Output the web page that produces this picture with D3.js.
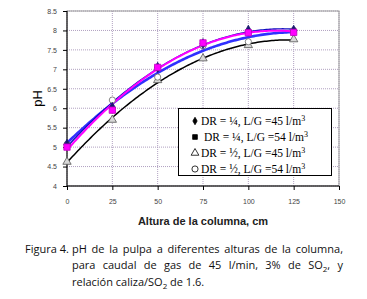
<!DOCTYPE html>
<html>
<head>
<meta charset="utf-8">
<script src="https://d3js.org/d3.v7.min.js"></script>
<style>
  body { margin: 0; background: #fff; }
  svg { display: block; }
</style>
</head>
<body>
<div id="chart"></div>
<script>
// altura de la columna (cm)
const alturas = [0, 25, 50, 75, 100, 125];
// pH por serie
const phDiamante = [5.07, 6.02, 7.05, 7.66, 8.0, 8.0];   // DR = 1/4, L/G = 45
const phCuadrado = [5.0, 5.95, 7.05, 7.68, 7.94, 7.95];  // DR = 1/4, L/G = 54
const phTriangulo = [4.62, 5.7, 6.72, 7.28, 7.62, 7.77]; // DR = 1/2, L/G = 45
const phCirculo = [5.07, 6.21, 6.8, 7.6, 7.71, 8.0];     // DR = 1/2, L/G = 54
const xTicks = [0, 25, 50, 75, 100, 125, 150];
const yTicks = [4, 4.5, 5, 5.5, 6, 6.5, 7, 7.5, 8, 8.5];
const leyenda = [
  {sym: "diamond", text: "DR = ¼, L/G =45 l/m"},
  {sym: "square", text: " DR = ¼, L/G =54 l/m"},
  {sym: "triangle", text: "DR = ½, L/G =45 l/m"},
  {sym: "circle", text: "DR = ½, L/G =54 l/m"}
];

const W = 367, H = 299;
const m = {left: 67, right: 28, top: 11, bottom: 113};

const svg = d3.select("#chart").append("svg")
  .attr("width", W).attr("height", H);

const x = d3.scaleLinear().domain([0, 150]).range([m.left, W - m.right]);
const y = d3.scaleLinear().domain([4, 8.5]).range([H - m.bottom, m.top]);

// rejilla
svg.append("g").selectAll("line").data(yTicks).join("line")
  .attr("x1", x(0)).attr("x2", x(150))
  .attr("y1", d => y(d)).attr("y2", d => y(d))
  .attr("stroke", "#b0a0c0").attr("stroke-dasharray", "1,1");
svg.append("g").selectAll("line").data(xTicks).join("line")
  .attr("y1", y(4)).attr("y2", y(8.5))
  .attr("x1", d => x(d)).attr("x2", d => x(d))
  .attr("stroke", "#b0a0c0").attr("stroke-dasharray", "1,1");

svg.append("rect")
  .attr("x", x(0)).attr("y", y(8.5))
  .attr("width", x(150) - x(0)).attr("height", y(4) - y(8.5))
  .attr("fill", "none").attr("stroke", "#999");
svg.append("line")
  .attr("x1", x(0)).attr("x2", x(0)).attr("y1", y(4)).attr("y2", y(8.5))
  .attr("stroke", "#000");
svg.append("line")
  .attr("x1", x(0)).attr("x2", x(150)).attr("y1", y(4)).attr("y2", y(4))
  .attr("stroke", "#000");

// ejes
const xAxis = svg.append("g")
  .attr("transform", `translate(0,${y(4)})`)
  .call(d3.axisBottom(x).tickValues(xTicks).tickSize(4).tickPadding(9));
const yAxis = svg.append("g")
  .attr("transform", `translate(${x(0)},0)`)
  .call(d3.axisLeft(y).tickValues(yTicks).tickSize(4).tickPadding(6).tickFormat(d3.format("")));
[xAxis, yAxis].forEach(g => {
  g.select(".domain").remove();
  g.selectAll("line").attr("stroke", "#000");
  g.selectAll("text").attr("font-family", "Liberation Sans, Arial").attr("font-size", 7).attr("fill", "#444");
});

svg.append("text")
  .attr("transform", `translate(42,${(y(4) + y(8.5)) / 2}) rotate(-90)`)
  .attr("text-anchor", "middle")
  .attr("font-family", "Liberation Sans, Arial").attr("font-size", 13)
  .text("pH");

svg.append("text")
  .attr("x", x(75)).attr("y", 225)
  .attr("text-anchor", "middle")
  .attr("font-family", "Liberation Sans, Arial").attr("font-size", 11).attr("font-weight", "bold")
  .attr("fill", "#222")
  .text("Altura de la columna, cm");

// ajuste polinómico de segundo grado (línea de tendencia)
function ajuste(xs, ys) {
  let s = [0, 0, 0, 0, 0], t = [0, 0, 0];
  xs.forEach((xi, i) => {
    for (let k = 0; k < 5; k++) s[k] += Math.pow(xi, k);
    for (let k = 0; k < 3; k++) t[k] += Math.pow(xi, k) * ys[i];
  });
  const A = [[s[0], s[1], s[2], t[0]], [s[1], s[2], s[3], t[1]], [s[2], s[3], s[4], t[2]]];
  for (let i = 0; i < 3; i++) {
    for (let j = i + 1; j < 3; j++) {
      const f = A[j][i] / A[i][i];
      for (let k = i; k < 4; k++) A[j][k] -= f * A[i][k];
    }
  }
  const c = [0, 0, 0];
  for (let i = 2; i >= 0; i--) {
    let v = A[i][3];
    for (let k = i + 1; k < 3; k++) v -= A[i][k] * c[k];
    c[i] = v / A[i][i];
  }
  return xv => c[0] + c[1] * xv + c[2] * xv * xv;
}

const linea = d3.line().x(d => x(d[0])).y(d => y(d[1]));
const xs = d3.range(0, 125.5, 1);
const tendencias = [
  {data: phCirculo, color: "#3030ff", w: 2.6},
  {data: phDiamante, color: "#1010c0", w: 1.4},
  {data: phCuadrado, color: "#ff00ff", w: 2},
  {data: phTriangulo, color: "#000", w: 1.5}
];
tendencias.forEach(s => {
  const f = ajuste(alturas, s.data);
  svg.append("path")
    .attr("d", linea(xs.map(v => [v, f(v)])))
    .attr("fill", "none").attr("stroke", s.color).attr("stroke-width", s.w);
});

// marcadores
const sym = {
  diamond: d3.symbol().type(d3.symbolDiamond).size(30),
  square: d3.symbol().type(d3.symbolSquare).size(40),
  triangle: d3.symbol().type(d3.symbolTriangle).size(30),
  circle: d3.symbol().type(d3.symbolCircle).size(30)
};
function puntos(data, s, fill, stroke) {
  svg.append("g").selectAll("path").data(data).join("path")
    .attr("transform", (d, i) => `translate(${x(alturas[i])},${y(d)})`)
    .attr("d", sym[s]())
    .attr("fill", fill).attr("stroke", stroke).attr("stroke-width", 0.8);
}
puntos(phTriangulo, "triangle", "#d8d8d8", "#555");
puntos(phCirculo, "circle", "#fff", "#666");
puntos(phDiamante, "diamond", "#1a1a70", "#1a1a70");
puntos(phCuadrado, "square", "#ff00ff", "#c000c0");

// leyenda
const lg = svg.append("g");
lg.append("rect")
  .attr("x", 178.5).attr("y", 108.5).attr("width", 153).attr("height", 67)
  .attr("fill", "#fff").attr("stroke", "#000");
const simLeyenda = {
  diamond: d3.symbol().type(d3.symbolDiamond).size(16),
  square: d3.symbol().type(d3.symbolSquare).size(22),
  triangle: d3.symbol().type(d3.symbolTriangle).size(26),
  circle: d3.symbol().type(d3.symbolCircle).size(30)
};
leyenda.forEach((d, i) => {
  const yy = 121 + i * 16;
  lg.append("path")
    .attr("transform", `translate(195,${yy})`)
    .attr("d", simLeyenda[d.sym]())
    .attr("fill", d.sym === "diamond" || d.sym === "square" ? "#000" : "none")
    .attr("stroke", "#000").attr("stroke-width", 0.8);
  const t = lg.append("text")
    .attr("x", 201).attr("y", yy + 4)
    .attr("font-family", "Liberation Serif, Times New Roman").attr("font-size", 11.5)
    .attr("xml:space", "preserve");
  t.append("tspan").text(d.text);
  t.append("tspan").attr("baseline-shift", "super").attr("font-size", 8).text("3");
});

// pie de figura, justificado con espaciado entre palabras
const cap = svg.append("g")
  .attr("font-family", "Open Sans, Noto Sans, sans-serif").attr("font-size", 11).attr("fill", "#111");
function justificar(t, ancho) {
  const natural = t.node().getComputedTextLength();
  const huecos = (t.text().match(/ /g) || []).length;
  if (huecos > 0) t.attr("word-spacing", (ancho - natural) / huecos);
}
const l1 = cap.append("text").attr("x", 25).attr("y", 253);
l1.append("tspan").text("Figura 4.");
l1.append("tspan").attr("x", 72).text("pH de la pulpa a diferentes alturas de la columna,");
const l1b = l1.select("tspan:last-child");
const n1 = l1b.node().getComputedTextLength();
const h1 = (l1b.text().match(/ /g) || []).length;
l1b.attr("word-spacing", (343 - 72 - n1) / h1);

const l2 = cap.append("text").attr("x", 72).attr("y", 269);
l2.append("tspan").text("para caudal de gas de 45 l/min, 3% de SO");
l2.append("tspan").attr("font-size", 8).attr("dy", 3).text("2");
l2.append("tspan").attr("dy", -3).text(", y");
justificar(l2, 343 - 72);

const l3 = cap.append("text").attr("x", 72).attr("y", 286);
l3.append("tspan").text("relación caliza/SO");
l3.append("tspan").attr("font-size", 8).attr("dy", 3).text("2");
l3.append("tspan").attr("dy", -3).text(" de 1.6.");
</script>
</body>
</html>
